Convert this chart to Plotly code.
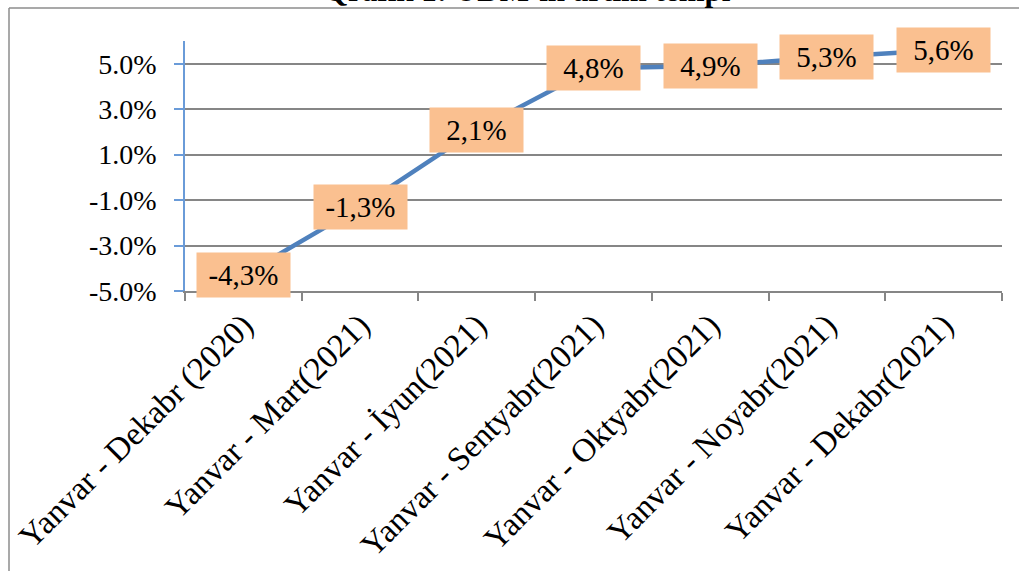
import plotly.graph_objects as go

categories = ["Yanvar - Dekabr (2020)", "Yanvar - Mart(2021)", "Yanvar - İyun(2021)",
              "Yanvar - Sentyabr(2021)", "Yanvar - Oktyabr(2021)", "Yanvar - Noyabr(2021)",
              "Yanvar - Dekabr(2021)"]
values = [-4.3, -1.3, 2.1, 4.8, 4.9, 5.3, 5.6]
value_labels = ["-4,3%", "-1,3%", "2,1%", "4,8%", "4,9%", "5,3%", "5,6%"]
y_ticks = [-5, -3, -1, 1, 3, 5]
y_tick_labels = ["-5.0%", "-3.0%", "-1.0%", "1.0%", "3.0%", "5.0%"]
title = "Qrafik 1: ÜDM-in artım tempi"

FONT = "Liberation Serif"
W, H = 1019, 571
OFF = 0  # page body margin removed via post_script
# desired plot area in screen pixels
SL, ST, SW, SH = 185, 41, 817, 250
L, T = SL - OFF, ST - OFF
R, B = W - L - SW, H - T - SH

def px(x):
    return (x - SL) / SW

def py(y):
    return (ST + SH - y) / SH

fig = go.Figure()
fig.add_trace(go.Scatter(
    x=categories, y=values, mode="lines",
    line=dict(color="#4F81BD", width=4.5),
    hoverinfo="skip", showlegend=False,
))

for c, v, t in zip(categories, values, value_labels):
    fig.add_annotation(
        x=c, y=v, xref="x", yref="y", text=t, showarrow=False,
        bgcolor="#FAC090", width=93, height=44, borderpad=0,
        font=dict(family=FONT, size=29, color="black"),
        xanchor="center", yanchor="middle",
    )

fig.add_annotation(
    x=px(527), y=py(10), xref="paper", yref="paper", text="<b>" + title + "</b>",
    showarrow=False, xanchor="center", yanchor="bottom",
    font=dict(family=FONT, size=31, color="black"),
)

# outer chart frame
fig.add_shape(type="line", xref="paper", yref="paper", x0=px(9), x1=px(1040), y0=py(8), y1=py(8),
              line=dict(color="#8C8C8C", width=1.5))
fig.add_shape(type="line", xref="paper", yref="paper", x0=px(9), x1=px(9), y0=py(8), y1=py(600),
              line=dict(color="#8C8C8C", width=1.5))

fig.update_layout(
    width=W, height=H,
    margin=dict(l=L, r=R, t=T, b=B, autoexpand=False),
    paper_bgcolor="white", plot_bgcolor="white",
    font=dict(family=FONT, color="black"),
    showlegend=False,
)
fig.update_xaxes(
    type="category", tickson="boundaries", ticks="outside", ticklen=8,
    tickcolor="#868686", tickwidth=1.5,
    showline=True, linecolor="#868686", linewidth=1.5,
    showgrid=False, tickangle=-45, automargin=False,
    tickfont=dict(family=FONT, size=33, color="black"),
    range=[-0.5, 6.5],
)
fig.update_yaxes(
    range=[-5, 6], tickvals=y_ticks, ticktext=y_tick_labels,
    ticks="outside", ticklen=9, tickcolor="#6A9BD8", tickwidth=1.5,
    showline=True, linecolor="#6A9BD8", linewidth=1.5,
    showgrid=True, gridcolor="#868686", gridwidth=1.5, zeroline=False,
    tickfont=dict(family=FONT, size=28, color="black"),
    ticklabelstandoff=12, automargin=False,
)

fig.write_html("out.html", config={"displayModeBar": False},
               post_script="document.body.style.margin='0';document.body.style.overflow='hidden';")
